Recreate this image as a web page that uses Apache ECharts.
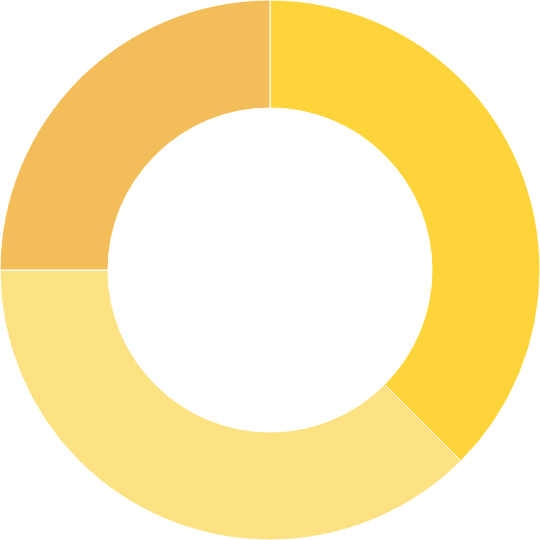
<!DOCTYPE html>
<html>
<head>
<meta charset="utf-8">
<script src="https://cdn.jsdelivr.net/npm/echarts@6/dist/echarts.min.js"></script>
<style>html,body{margin:0;padding:0;background:#fff;}#c{width:540px;height:540px;}</style>
</head>
<body>
<div id="c"></div>
<script>
const categories = ['A', 'B', 'C'];
const values = [37.5, 37.5, 25];
const colors = ['#FED43B', '#FDE283', '#F3BD59'];

const chart = echarts.init(document.getElementById('c'), null, {renderer: 'canvas'});
chart.setOption({
  animation: false,
  series: [{
    type: 'pie',
    center: ['50%', '50%'],
    radius: ['60%', '100%'],
    startAngle: 90,
    clockwise: true,
    label: {show: false},
    labelLine: {show: false},
    emphasis: {disabled: true},
    itemStyle: {borderColor: '#ffffff', borderWidth: 1},
    data: categories.map((n, i) => ({name: n, value: values[i], itemStyle: {color: colors[i]}}))
  }]
});
</script>
</body>
</html>
